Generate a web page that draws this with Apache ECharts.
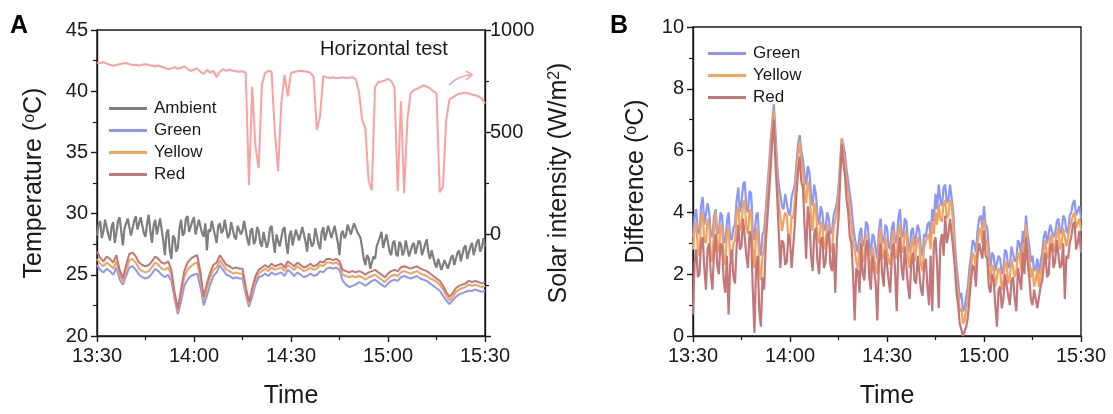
<!DOCTYPE html>
<html>
<head>
<meta charset="utf-8">
<script src="https://cdn.jsdelivr.net/npm/echarts@6/dist/echarts.min.js"></script>
<style>
html,body{margin:0;padding:0;background:#fff;}
#c{width:1113px;height:414px;}
</style>
</head>
<body>
<div id="c"></div>
<script>
// ---- tick labels / categories ----
const timeLabels = ['13:30', '14:00', '14:30', '15:00', '15:30'];
const legendA = ['Ambient', 'Green', 'Yellow', 'Red'];
const legendB = ['Green', 'Yellow', 'Red'];

// ---- Panel A: solar + surface temperatures, one value per minute (0 = 13:30 ... 120 = 15:30) ----
const solarA = [
840,838,842,835,830,825,828,832,836,838,
832,828,830,826,830,832,828,825,822,826,
820,815,808,812,818,810,815,822,810,800,
805,812,795,785,805,790,800,770,795,808,
800,805,800,798,795,798,790,240,720,430,
323,730,790,800,795,500,308,640,780,675,
790,795,798,800,798,795,790,770,510,580,
775,768,765,768,765,765,768,765,766,768,
760,700,560,520,260,215,720,745,748,752,
760,750,720,210,650,200,560,690,705,712,
720,730,722,715,700,690,205,230,560,660,
670,680,688,690,692,688,684,680,674,665,640];

const greenA = [
25.8,25.4,25.2,25.5,25.3,25.0,25.6,24.6,24.2,24.9,
25.6,25.7,25.4,25.0,24.8,24.7,24.8,25.1,25.5,25.3,
25.0,24.8,25.0,24.5,23.0,21.8,22.8,24.1,24.6,24.9,
25.0,25.1,24.0,22.5,23.3,24.2,24.9,25.2,25.8,25.4,
25.0,24.9,24.7,24.8,24.7,24.7,23.4,22.4,23.2,24.2,
24.8,24.9,25.1,24.9,25.2,25.0,25.1,25.2,24.9,25.4,
25.2,24.9,25.2,25.0,24.8,24.9,25.1,24.9,25.0,25.3,
25.2,25.5,25.6,25.5,25.6,25.4,24.5,24.2,24.0,24.1,
24.2,24.4,24.3,24.1,24.3,24.5,24.6,24.4,24.2,24.0,
24.3,24.5,24.6,24.5,24.8,24.9,24.8,24.7,24.8,24.9,
24.7,24.6,24.5,24.3,24.1,23.9,23.7,23.3,22.9,22.6,
22.9,23.2,23.4,23.5,23.6,23.7,23.7,23.8,23.7,23.6,23.7];

const yellowA = [
26.3,25.9,25.7,26.0,25.8,25.5,26.1,25.0,24.4,25.3,
26.2,26.3,26.0,25.5,25.3,25.2,25.3,25.6,26.0,25.8,
25.5,25.4,25.6,25.0,23.3,22.0,23.4,24.8,25.4,25.7,
25.9,26.0,24.7,22.9,23.9,24.8,25.4,25.6,26.2,25.8,
25.4,25.3,25.1,25.2,25.1,25.1,23.7,22.6,23.6,24.6,
25.1,25.3,25.5,25.3,25.6,25.4,25.5,25.6,25.3,25.8,
25.6,25.4,25.7,25.5,25.3,25.4,25.6,25.4,25.5,25.8,
25.7,26.0,26.0,25.9,26.0,25.8,25.0,24.9,24.8,24.9,
24.8,24.9,24.8,24.6,24.8,24.9,25.0,24.8,24.6,24.4,
24.7,24.9,25.0,24.9,25.2,25.3,25.2,25.1,25.2,25.3,
25.1,25.0,24.9,24.7,24.6,24.4,24.2,23.8,23.3,22.9,
23.2,23.6,23.8,23.9,24.0,24.2,24.1,24.2,24.1,24.0,24.1];

const redA = [
26.9,26.4,26.1,26.5,26.3,26.0,26.6,25.4,24.7,25.8,
26.7,26.8,26.5,26.0,25.8,25.7,25.8,26.1,26.5,26.3,
26.0,25.9,26.1,25.4,23.6,22.2,23.8,25.3,26.0,26.3,
26.5,26.6,25.2,23.2,24.3,25.2,25.8,26.0,26.6,26.2,
25.8,25.7,25.5,25.6,25.5,25.5,24.0,22.8,23.9,24.9,
25.4,25.6,25.8,25.6,25.9,25.7,25.8,25.9,25.6,26.1,
25.9,25.7,26.0,25.8,25.6,25.7,25.9,25.7,25.8,26.1,
26.0,26.3,26.3,26.2,26.3,26.1,25.4,25.3,25.2,25.3,
25.2,25.3,25.2,25.0,25.2,25.3,25.4,25.2,25.0,24.8,
25.1,25.3,25.4,25.3,25.6,25.7,25.6,25.5,25.6,25.7,
25.5,25.4,25.3,25.1,24.9,24.7,24.5,24.1,23.6,23.2,
23.5,23.9,24.1,24.2,24.3,24.5,24.4,24.5,24.4,24.3,24.4];

// ---- Ambient (panel A) and differences (panel B): one value per half minute ----
const ambientA = [
28.2,29.1, 29.4,28.0, 28.6,29.5, 29.6,28.3, 27.8,28.9, 29.3,27.6, 28.4,29.4, 29.7,28.5, 27.4,28.8, 28.9,29.6,
29.5,28.2, 28.3,29.4, 29.8,28.7, 28.6,29.7, 29.6,28.4, 28.1,29.2, 29.9,28.6, 27.6,29.0, 29.5,28.3, 28.4,29.6,
29.7,27.8, 26.6,28.4, 28.7,27.0, 26.3,28.2, 28.0,26.9, 27.2,28.8, 29.5,28.2, 28.4,29.6, 29.8,28.5, 28.6,29.4,
29.7,28.3, 28.9,29.5, 29.6,28.4, 28.1,29.2, 27.0,28.7, 28.5,29.4, 29.5,28.2, 27.6,29.0, 29.2,28.4, 28.6,29.5,
29.4,28.0, 28.3,29.3, 29.2,28.1, 27.9,29.0, 29.1,28.3, 28.6,29.4, 29.3,27.9, 27.4,28.6, 28.8,27.5, 27.8,28.9,
28.6,27.6, 27.3,28.5, 28.4,27.2, 27.7,28.8, 29.0,27.8, 26.8,28.3, 28.2,27.3, 27.4,28.7, 28.9,27.6, 26.7,28.2,
28.6,27.4, 27.5,28.7, 28.8,27.8, 27.9,28.9, 29.0,27.7, 26.9,28.4, 28.5,27.3, 27.6,28.8, 28.7,27.5, 27.1,28.5,
28.9,27.8, 27.8,29.0, 29.1,28.0, 28.0,29.0, 29.0,27.6, 26.6,28.3, 28.6,28.0, 28.2,29.1, 29.0,28.3, 28.4,29.2,
29.2,28.5, 28.5,28.0, 27.2,26.3, 25.8,26.6, 26.4,25.5, 25.6,26.5, 26.3,27.3, 27.4,28.1, 28.5,27.2, 27.3,28.3,
28.2,26.9, 26.6,27.6, 27.8,26.7, 26.5,27.7, 27.5,26.6, 26.9,27.8, 27.7,26.5, 26.4,27.4, 27.6,26.7, 26.8,27.8,
27.6,26.6, 26.7,27.5, 27.9,26.8, 26.3,27.0, 26.9,25.9, 25.6,26.3, 26.2,25.4, 25.4,26.2, 26.1,25.5, 25.6,26.4,
26.6,25.8, 25.9,26.8, 27.0,26.1, 26.2,27.2, 27.4,26.3, 26.3,27.3, 27.6,26.6, 26.5,27.7, 27.9,26.9, 27.2,28.0,
27.3];

const greenB = [
3.2,3.9, 4.1,3.3, 3.4,4.2, 4.5,3.6, 3.6,4.3, 4.0,3.3, 3.2,3.9, 4.1,3.4, 3.3,4.0, 3.9,3.1,
3.0,3.7, 4.0,3.2, 3.1,3.5, 3.6,4.4, 4.8,4.0, 4.3,4.9, 5.0,4.2, 4.0,4.7, 4.6,3.4, 3.1,3.9,
4.0,3.0, 2.6,3.3, 3.4,4.1, 4.8,5.5, 6.3,6.9, 7.5,6.6, 5.6,4.9, 4.6,4.2, 4.1,4.6, 4.6,4.0,
3.9,4.5, 4.5,4.9, 5.6,6.2, 6.5,6.0, 5.7,5.2, 4.9,5.5, 5.3,4.6, 4.2,4.9, 4.6,3.9, 3.6,4.2,
4.0,3.4, 3.5,4.0, 3.8,3.3, 3.4,3.9, 3.9,4.3, 4.8,5.6, 6.4,6.2, 5.9,5.4, 5.0,4.6, 4.2,3.6,
3.2,2.9, 2.7,3.3, 3.5,2.9, 3.0,3.7, 3.6,3.0, 2.6,3.3, 3.2,2.8, 2.5,3.4, 3.8,3.1, 3.0,3.6,
3.5,2.9, 2.8,3.5, 3.7,3.1, 3.0,3.8, 4.1,3.3, 3.2,3.8, 3.7,3.0, 2.7,3.4, 3.5,2.9, 2.9,3.6,
3.4,2.8, 2.6,3.3, 3.2,3.6, 3.7,3.2, 4.1,3.7, 4.6,4.1, 4.9,4.4, 4.2,4.8, 4.9,4.3, 4.4,4.9,
4.9,4.0, 3.0,2.3, 1.8,1.2, 1.4,0.8, 0.9,1.3, 1.6,2.2, 2.6,3.1, 3.0,2.7, 3.4,3.8, 3.9,3.5,
4.2,3.6, 3.5,2.8, 2.2,2.7, 2.6,2.1, 2.1,2.6, 2.5,2.0, 2.2,2.8, 2.7,2.2, 2.3,2.9, 2.9,2.4,
2.5,3.1, 3.0,2.6, 3.4,3.0, 3.9,3.3, 2.9,2.4, 2.6,2.1, 2.2,2.5, 2.0,2.4, 2.7,3.2, 3.4,3.0,
3.0,3.6, 3.6,3.2, 3.3,3.7, 3.8,3.3, 3.4,3.9, 3.8,3.4, 3.3,3.9, 4.0,4.3, 4.4,3.9, 3.9,4.2,
3.8];

const yellowB = [
2.8,3.5, 3.7,2.8, 2.6,3.8, 4.0,3.1, 3.0,3.8, 3.6,2.6, 2.4,3.5, 4.0,2.9, 2.7,3.6, 3.5,2.5,
2.3,3.3, 3.5,2.6, 2.4,3.0, 3.1,3.9, 4.2,3.4, 3.6,4.3, 4.4,3.5, 3.3,4.1, 4.0,2.8, 2.2,3.3,
3.5,2.3, 1.8,2.6, 2.8,3.6, 4.4,5.2, 6.0,6.7, 7.3,6.2, 5.2,4.3, 3.9,3.4, 3.4,4.0, 3.9,3.2,
3.0,3.9, 3.8,4.4, 5.2,5.9, 6.3,5.6, 5.4,4.6, 4.3,5.0, 4.7,3.9, 3.4,4.3, 4.1,3.2, 3.0,3.7,
3.6,2.8, 3.0,3.6, 3.5,2.7, 2.8,3.5, 3.5,4.0, 4.5,5.4, 6.4,6.0, 5.6,5.0, 4.6,4.0, 3.6,3.0,
2.8,2.4, 2.2,2.9, 3.2,2.4, 2.5,3.3, 3.3,2.5, 2.0,2.9, 2.9,2.2, 2.0,3.0, 3.5,2.6, 2.5,3.2,
3.2,2.4, 2.3,3.1, 3.4,2.6, 2.5,3.4, 3.6,2.8, 2.7,3.4, 3.3,2.5, 2.2,3.0, 3.2,2.4, 2.4,3.2,
3.0,2.3, 2.1,2.9, 2.9,3.2, 3.3,2.8, 3.7,3.3, 4.0,3.6, 4.3,3.8, 3.7,4.3, 4.4,3.8, 3.9,4.4,
4.3,3.5, 2.6,1.9, 1.4,0.8, 0.9,0.4, 0.5,0.9, 1.2,1.8, 2.2,2.7, 2.6,2.2, 3.0,3.4, 3.5,3.0,
3.8,3.1, 3.0,2.3, 1.8,2.3, 2.2,1.6, 1.6,2.2, 2.1,1.5, 1.8,2.4, 2.3,1.7, 1.9,2.5, 2.5,1.9,
2.1,2.7, 2.6,2.1, 3.0,2.6, 3.6,2.9, 2.5,1.9, 2.2,1.6, 1.8,2.2, 1.6,2.0, 2.3,2.8, 3.1,2.5,
2.6,3.2, 3.3,2.7, 2.9,3.3, 3.5,2.8, 3.0,3.5, 3.5,2.9, 2.9,3.5, 3.7,3.9, 4.0,3.5, 3.5,3.8,
3.4];

const redB = [
0.7,2.4, 2.8,1.9, 2.0,3.0, 3.2,2.2, 1.5,2.8, 3.0,2.0, 1.5,2.7, 3.3,2.3, 2.0,3.0, 2.9,1.8,
1.4,2.6, 0.7,2.3, 2.8,1.9, 1.7,2.9, 3.6,2.8, 2.9,3.8, 3.8,2.6, 2.2,3.4, 3.2,1.5, 0.1,2.2,
2.6,0.8, 0.3,1.9, 1.5,3.0, 3.8,4.6, 5.4,6.3, 7.0,5.6, 4.6,3.4, 2.2,3.1, 3.0,2.3, 2.4,3.3,
3.1,2.2, 2.2,3.6, 4.6,5.3, 5.8,5.0, 4.8,3.6, 2.5,4.2, 3.8,2.6, 2.1,3.3, 3.5,2.4, 2.0,3.1,
3.2,2.2, 2.4,3.2, 3.4,2.3, 2.1,3.0, 1.4,3.1, 3.8,5.0, 6.2,5.6, 5.2,4.4, 4.0,3.2, 3.0,2.0,
0.5,2.2, 2.1,1.4, 3.0,2.0, 1.8,2.8, 3.1,1.9, 1.5,2.6, 2.6,1.7, 0.5,2.4, 3.0,2.0, 1.6,2.8,
2.8,1.8, 1.4,2.6, 3.0,2.1, 0.8,2.7, 3.2,2.2, 1.8,2.9, 2.9,1.6, 1.2,2.4, 2.7,1.8, 1.7,2.6,
2.6,1.5, 1.3,2.3, 2.5,1.6, 1.0,2.6, 0.8,3.0, 3.2,2.3, 0.9,3.0, 3.3,2.6, 3.9,3.0, 3.3,3.8,
3.8,2.8, 2.2,1.4, 1.0,0.4, 0.4,0.0, 0.0,0.3, 0.6,1.2, 1.8,2.3, 2.2,1.6, 2.6,3.0, 3.0,2.5,
3.4,2.6, 2.5,1.6, 1.4,2.0, 1.8,1.0, 0.3,1.5, 1.6,0.9, 1.2,2.0, 2.0,1.3, 1.0,1.8, 1.9,1.2,
0.8,2.2, 2.2,1.5, 2.7,2.0, 3.2,2.4, 1.9,1.2, 1.0,1.5, 1.5,0.9, 0.9,1.6, 1.8,2.3, 2.7,1.9,
2.0,2.9, 3.0,2.2, 2.4,3.1, 3.1,2.2, 2.3,3.0, 1.2,2.6, 2.5,3.0, 3.2,3.6, 3.7,2.8, 3.0,3.4,
2.7];

// ---- styling ----
const FONT = "Arial, 'Liberation Sans', sans-serif";
const INK = '#1a1a1a';
const COL = {ambient:'#7f7f7f', green:'#8c98f8', yellow:'#f5a25d', red:'#c57678', solar:'#fca0a0'};

const perMinute = arr => arr.map((v, i) => [i, v]);
const perHalfMinute = arr => arr.map((v, i) => [i / 2, v]);

function timeAxis(gridIndex){
  return {
    type:'value', gridIndex, min:0, max:120, interval:30,
    name:'Time', nameLocation:'middle', nameGap:48,
    nameTextStyle:{fontFamily:FONT, fontSize:25, color:INK},
    axisLine:{show:true, onZero:false, lineStyle:{color:INK, width:1.4}},
    axisTick:{show:true, length:6, lineStyle:{color:INK, width:1.4}},
    minorTick:{show:true, splitNumber:2, length:4, lineStyle:{color:INK, width:1.2}},
    splitLine:{show:false},
    axisLabel:{fontFamily:FONT, fontSize:20, color:INK, margin:10,
      formatter: v => timeLabels[Math.round(v/30)] }
  };
}

function richName(pre, sup, post, size){
  return {
    text: '{t|' + pre + '}{s|' + sup + '}{t|' + post + '}',
    style: {
      fontFamily: FONT, color: INK,
      rich: {
        t: {fontFamily:FONT, fontSize:size, color:INK},
        s: {fontFamily:FONT, fontSize:Math.round(size*0.62), color:INK, verticalAlign:'top'}
      }
    }
  };
}

const nameTemp = richName('Temperature (', 'o', 'C)', 25);
const nameSolar = richName('Solar intensity (W/m', '2', ')', 25);
const nameDiff = richName('Difference (', 'o', 'C)', 25);

const lineSeries = (name, data, color, xi, yi, w) => ({
  name, type:'line', xAxisIndex:xi, yAxisIndex:yi, data,
  symbol:'none', showSymbol:false, animation:false,
  lineStyle:{color, width:w}, itemStyle:{color}
});

const yAxisBase = {
  axisLine:{show:true, lineStyle:{color:INK, width:1.4}},
  axisTick:{show:true, length:6, lineStyle:{color:INK, width:1.4}},
  minorTick:{show:true, splitNumber:2, length:4, lineStyle:{color:INK, width:1.2}},
  splitLine:{show:false}
};

const option = {
  animation:false,
  backgroundColor:'#fff',
  grid:[
    {left:97, right:628, top:30, bottom:73, show:true, borderColor:INK, borderWidth:1.4, backgroundColor:'transparent'},
    {left:693, right:32, top:27, bottom:74, show:true, borderColor:INK, borderWidth:1.4, backgroundColor:'transparent'}
  ],
  xAxis:[timeAxis(0), timeAxis(1)],
  yAxis:[
    Object.assign({
      type:'value', gridIndex:0, min:20, max:45, interval:5,
      name:nameTemp.text, nameLocation:'middle', nameGap:50,
      nameTextStyle:nameTemp.style,
      axisLabel:{fontFamily:FONT, fontSize:20, color:INK, margin:9}
    }, yAxisBase),
    Object.assign({
      type:'value', gridIndex:0, position:'right', min:-500, max:1000, interval:500,
      name:nameSolar.text, nameLocation:'middle', nameGap:62,
      nameTextStyle:nameSolar.style,
      axisLabel:{fontFamily:FONT, fontSize:20, color:INK, margin:5,
        formatter: v => (v < 0 ? '' : String(v))}
    }, yAxisBase),
    Object.assign({
      type:'value', gridIndex:1, min:0, max:10, interval:2,
      name:nameDiff.text, nameLocation:'middle', nameGap:44,
      nameTextStyle:nameDiff.style,
      axisLabel:{fontFamily:FONT, fontSize:20, color:INK, margin:9}
    }, yAxisBase)
  ],
  legend:[
    {
      data:legendA, orient:'vertical', left:104, top:95, itemWidth:38, itemHeight:3, itemGap:5,
      icon:'rect',
      textStyle:{fontFamily:FONT, fontSize:17, color:INK, padding:[0,0,0,2]}
    },
    {
      data:legendB, orient:'vertical', left:703, top:40, itemWidth:38, itemHeight:3, itemGap:5,
      icon:'rect',
      textStyle:{fontFamily:FONT, fontSize:17, color:INK, padding:[0,0,0,2]}
    }
  ],
  series:[
    lineSeries('Solar', perMinute(solarA), COL.solar, 0, 1, 2),
    lineSeries('Ambient', perHalfMinute(ambientA), COL.ambient, 0, 0, 2.2),
    lineSeries('Green', perMinute(greenA), COL.green, 0, 0, 2),
    lineSeries('Yellow', perMinute(yellowA), COL.yellow, 0, 0, 2),
    lineSeries('Red', perMinute(redA), COL.red, 0, 0, 2),
    lineSeries('Green', perHalfMinute(greenB), COL.green, 1, 2, 2.2),
    lineSeries('Yellow', perHalfMinute(yellowB), COL.yellow, 1, 2, 2.2),
    lineSeries('Red', perHalfMinute(redB), COL.red, 1, 2, 2.2)
  ],
  graphic:[
    {type:'text', left:10, top:14, style:{text:'A', fontFamily:FONT, fontSize:25, fontWeight:'bold', fill:'#000'}},
    {type:'text', left:610, top:14, style:{text:'B', fontFamily:FONT, fontSize:25, fontWeight:'bold', fill:'#000'}},
    {type:'text', left:320, top:39, style:{text:'Horizontal test', fontFamily:FONT, fontSize:20, fill:INK}},
    {type:'bezierCurve', shape:{x1:449, y1:85, x2:472, y2:75, cpx1:456, cpy1:78, cpx2:464, cpy2:75},
      style:{stroke:COL.solar, lineWidth:1.6, fill:'none'}},
    {type:'polyline', shape:{points:[[466,71],[472,75],[466,80]]},
      style:{stroke:COL.solar, lineWidth:1.6, fill:'none'}}
  ]
};

const chart = echarts.init(document.getElementById('c'), null, {renderer:'canvas'});
chart.setOption(option);
</script>
</body>
</html>
